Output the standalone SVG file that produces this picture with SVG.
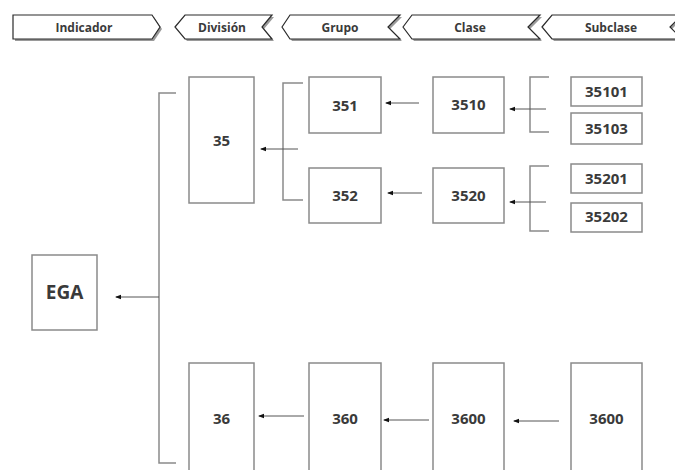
<svg xmlns="http://www.w3.org/2000/svg" width="675" height="470" viewBox="0 0 675 470">
<defs>
<style>
.hdr{fill:#fff;stroke:#2a2a2a;stroke-width:1.2;stroke-linejoin:miter}
.shd{fill:#9a9a9a;stroke:none}
.ht{font-family:"Open Sans","DejaVu Sans",sans-serif;font-weight:bold;font-size:12px;fill:#3a3a3a;text-anchor:middle}
.box{fill:#fff;stroke:#8a8a8a;stroke-width:1.5}
.lbl{font-family:"Open Sans","DejaVu Sans",sans-serif;font-weight:bold;font-size:15px;fill:#3a3a3a;text-anchor:middle}
.brk{fill:none;stroke:#8a8a8a;stroke-width:1.5}
.arr{fill:none;stroke:#555;stroke-width:1;marker-end:url(#ah)}
</style>
<marker id="ah" markerWidth="6" markerHeight="6" refX="5" refY="3" orient="auto" markerUnits="userSpaceOnUse">
<path d="M0,0.8 L6,3 L0,5.2 Z" fill="#111"/>
</marker>
</defs>
<rect width="675" height="470" fill="#fff"/>

<g id="header">
<g id="h-indicador">
<path class="shd" d="M15,17 L154,17 L162,29 L154,41 L15,41 Z"/>
<path class="hdr" d="M13,15 L152,15 L160,27 L152,39 L13,39 Z"/>
<text class="ht" x="84" y="31.5">Indicador</text>
</g>
<g id="h-division">
<path class="shd" d="M177,29 L187,17 L274,17 L264,29 L274,41 L187,41 Z"/>
<path class="hdr" d="M175,27 L185,15 L272,15 L262,27 L272,39 L185,39 Z"/>
<text class="ht" x="222" y="31.5">División</text>
</g>
<g id="h-grupo">
<path class="shd" d="M284,29 L292,17 L402,17 L390,29 L402,41 L292,41 Z"/>
<path class="hdr" d="M282,27 L290,15 L400,15 L388,27 L400,39 L290,39 Z"/>
<text class="ht" x="340" y="31.5">Grupo</text>
</g>
<g id="h-clase">
<path class="shd" d="M405,29 L414,17 L542,17 L530,29 L542,41 L414,41 Z"/>
<path class="hdr" d="M403,27 L412,15 L540,15 L528,27 L540,39 L412,39 Z"/>
<text class="ht" x="470" y="31.5">Clase</text>
</g>
<g id="h-subclase">
<path class="shd" d="M544,29 L554,17 L684,17 L672,29 L684,41 L554,41 Z"/>
<path class="hdr" d="M542,27 L552,15 L682,15 L670,27 L682,39 L552,39 Z"/>
<text class="ht" x="611" y="31.5">Subclase</text>
</g>
</g>

<g id="connectors">
<path class="brk" d="M176,93 L159,93 L159,463 L176,463"/>
<line class="arr" x1="159" y1="297" x2="116" y2="297"/>
<path class="brk" d="M303,83 L283,83 L283,200 L303,200"/>
<line class="arr" x1="298" y1="149" x2="261" y2="149"/>
<line class="arr" x1="419" y1="103" x2="386" y2="103"/>
<line class="arr" x1="422" y1="193" x2="388" y2="193"/>
<path class="brk" d="M549,77 L530,77 L530,132 L549,132"/>
<line class="arr" x1="546" y1="109" x2="510" y2="109"/>
<path class="brk" d="M549,166 L530,166 L530,231 L549,231"/>
<line class="arr" x1="546" y1="202" x2="510" y2="202"/>
<line class="arr" x1="304" y1="416" x2="259" y2="416"/>
<line class="arr" x1="429" y1="420" x2="384" y2="420"/>
<line class="arr" x1="559" y1="421" x2="514" y2="421"/>
</g>

<g id="n-ega"><rect class="box" x="32" y="255" width="65" height="75"/><text class="lbl" x="64.5" y="299" style="font-size:19px">EGA</text></g>
<g id="n-35"><rect class="box" x="189" y="77" width="65" height="126"/><text class="lbl" x="221.5" y="146">35</text></g>
<g id="n-351"><rect class="box" x="309" y="77" width="72" height="56"/><text class="lbl" x="345" y="111">351</text></g>
<g id="n-352"><rect class="box" x="309" y="168" width="72" height="55"/><text class="lbl" x="345" y="201">352</text></g>
<g id="n-3510"><rect class="box" x="433" y="77" width="71" height="56"/><text class="lbl" x="468.5" y="110">3510</text></g>
<g id="n-3520"><rect class="box" x="433" y="168" width="71" height="55"/><text class="lbl" x="468.5" y="201">3520</text></g>
<g id="n-35101"><rect class="box" x="571" y="77" width="71" height="29"/><text class="lbl" x="606.5" y="97">35101</text></g>
<g id="n-35103"><rect class="box" x="571" y="113" width="71" height="31"/><text class="lbl" x="606.5" y="134">35103</text></g>
<g id="n-35201"><rect class="box" x="571" y="164" width="71" height="29"/><text class="lbl" x="606.5" y="184">35201</text></g>
<g id="n-35202"><rect class="box" x="571" y="203" width="71" height="29"/><text class="lbl" x="606.5" y="222">35202</text></g>
<g id="n-36"><rect class="box" x="189" y="363" width="65" height="130"/><text class="lbl" x="221.5" y="424">36</text></g>
<g id="n-360"><rect class="box" x="309" y="363" width="72" height="130"/><text class="lbl" x="345" y="424">360</text></g>
<g id="n-3600a"><rect class="box" x="433" y="363" width="71" height="130"/><text class="lbl" x="468.5" y="424">3600</text></g>
<g id="n-3600b"><rect class="box" x="571" y="363" width="71" height="130"/><text class="lbl" x="606.5" y="424">3600</text></g>
</svg>
